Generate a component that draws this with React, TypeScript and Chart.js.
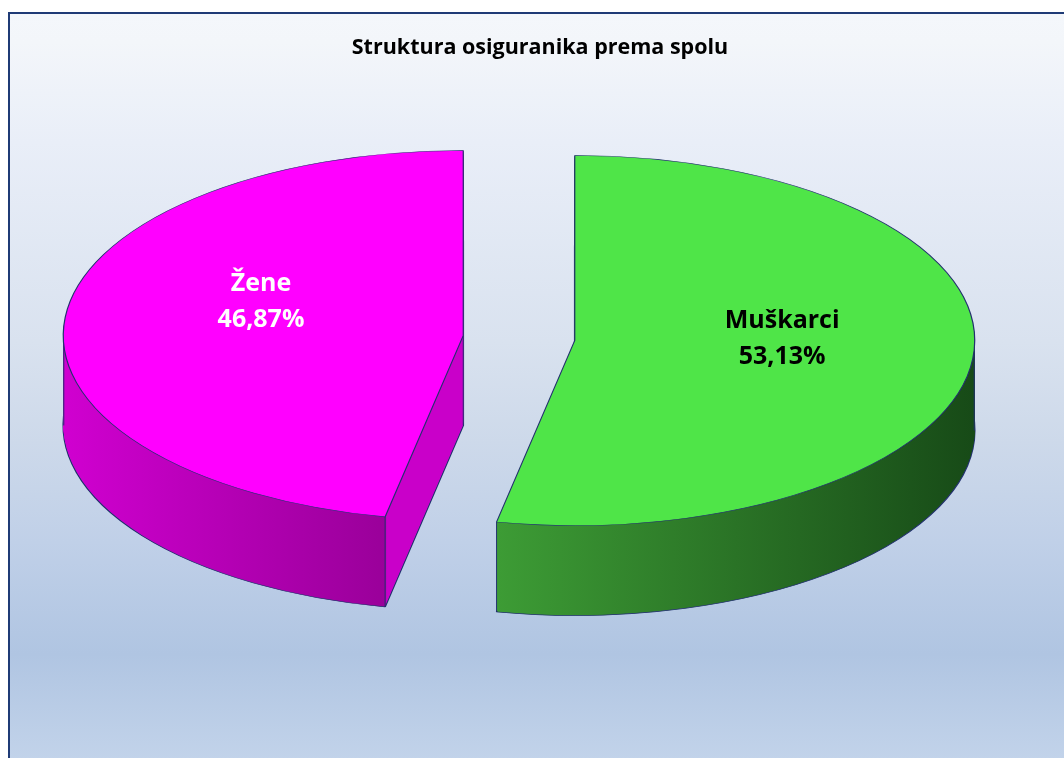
import React, { useEffect, useRef } from 'react';
import { Chart, registerables } from 'chart.js';

Chart.register(...registerables);

const CATEGORIES = ['Muškarci', 'Žene'];
const SHARES = [53.13, 46.87];
const TITLE = 'Struktura osiguranika prema spolu';

const TOP_COLORS = ['#4fe548', '#ff00ff'];
const SIDE_LIGHT = ['#3d9c35', '#d000d0'];
const SIDE_DARK = ['#174a17', '#9a009a'];
const SIDE_CUT = ['#2c7a28', '#c900c9'];
const LABEL_COLORS = ['#000000', '#ffffff'];
const LABEL_SHIFT_DEG = [-8, 15.2];
const LABEL_R_FRAC = [0.519, 0.541];
const EDGE = '#22306e';

const W = 1064;
const H = 758;
const PIE_CX = 519;
const PIE_CY = 338;
const RADIUS = 400;
const SQUASH = 0.4625;
const DEPTH = 90;
const EXPLODE = 56;

const fmtPct = (v: number) => v.toFixed(2).replace('.', ',') + '%';

const inArc = (a: any, ang: number) =>
  [ang, ang + 2 * Math.PI, ang - 2 * Math.PI].some((t) => t >= a.startAngle && t <= a.endAngle);

const pie3d = {
  id: 'pie3d',
  beforeDatasetsDraw(chart: any) {
    const ctx = chart.ctx as CanvasRenderingContext2D;
    const arcs = chart.getDatasetMeta(0).data as any[];
    if (!arcs.length) return;
    const px = arcs[0].x;
    const py = arcs[0].y;
    const sy = (uy: number) => py + (uy - py) * SQUASH;
    const geo = arcs.map((a) => {
      const mid = (a.startAngle + a.endAngle) / 2;
      const dx = Math.cos(mid) * EXPLODE;
      const dy = Math.sin(mid) * EXPLODE;
      const R = a.outerRadius;
      return { a, mid, dx, dy, R, cx: px + dx, cyU: py + dy };
    });
    const point = (g: any, ang: number) => ({
      x: g.cx + Math.cos(ang) * g.R,
      y: sy(g.cyU + Math.sin(ang) * g.R),
    });
    const drawEl = (i: number, over: any, shift: number) => {
      const g = geo[i];
      ctx.save();
      ctx.translate(0, shift);
      ctx.translate(px, py);
      ctx.scale(1, SQUASH);
      ctx.translate(-px, -py);
      ctx.translate(g.dx, g.dy);
      const f = Object.create(g.a);
      f.options = Object.assign({}, g.a.options, { offset: 0 }, over);
      f.draw(ctx);
      ctx.restore();
    };

    const grads = geo.map((g, i) => {
      const gr = ctx.createLinearGradient(px - g.R, 0, px + g.R, 0);
      const frontAtStart = Math.sin(g.a.startAngle) > 0;
      const cornerAng = frontAtStart ? g.a.startAngle : g.a.endAngle;
      const f = Math.min(Math.max((Math.cos(cornerAng) + 1) / 2, 0.001), 0.997);
      if (frontAtStart) {
        gr.addColorStop(0, SIDE_LIGHT[i]);
        gr.addColorStop(f, SIDE_DARK[i]);
        gr.addColorStop(f + 0.002, SIDE_CUT[i]);
        gr.addColorStop(1, SIDE_CUT[i]);
      } else {
        gr.addColorStop(0, SIDE_LIGHT[i]);
        gr.addColorStop(f, SIDE_LIGHT[i]);
        gr.addColorStop(1, SIDE_DARK[i]);
      }
      return gr;
    });

    for (let d = DEPTH; d >= 1; d--) {
      geo.forEach((_g, i) =>
        drawEl(
          i,
          { backgroundColor: grads[i], borderWidth: d === DEPTH ? 1.6 : 0, borderColor: EDGE },
          d
        )
      );
    }

    ctx.save();
    ctx.strokeStyle = EDGE;
    ctx.lineWidth = 1;
    const vline = (x: number, y: number) => {
      ctx.beginPath();
      ctx.moveTo(x, y);
      ctx.lineTo(x, y + DEPTH);
      ctx.stroke();
    };
    geo.forEach((g) => {
      [g.a.startAngle, g.a.endAngle].forEach((ang: number) => {
        if (Math.sin(ang) > 0.01) {
          const p = point(g, ang);
          vline(p.x, p.y);
        }
      });
      vline(g.cx, sy(g.cyU));
      if (inArc(g.a, 0)) vline(g.cx + g.R - 0.5, sy(g.cyU));
      if (inArc(g.a, Math.PI)) vline(g.cx - g.R + 0.5, sy(g.cyU));
    });
    ctx.restore();

    geo.forEach((_g, i) => drawEl(i, {}, 0));

    ctx.save();
    ctx.textAlign = 'center';
    ctx.textBaseline = 'alphabetic';
    ctx.font = 'bold 25px "Open Sans"';
    geo.forEach((g, i) => {
      const ang = g.mid + (LABEL_SHIFT_DEG[i] * Math.PI) / 180;
      const r = g.R * LABEL_R_FRAC[i];
      const x = g.cx + Math.cos(ang) * r;
      const y = sy(g.cyU + Math.sin(ang) * r);
      ctx.fillStyle = LABEL_COLORS[i];
      ctx.fillText(String(chart.data.labels[i]), x, y - 9);
      ctx.fillText(fmtPct(chart.data.datasets[0].data[i]), x, y + 27);
    });
    ctx.restore();
    return false;
  },
};

export default function App() {
  const ref = useRef<HTMLCanvasElement | null>(null);
  useEffect(() => {
    document.body.style.margin = '0';
    if (!ref.current) return;
    const chart = new Chart(ref.current, {
      type: 'pie',
      data: {
        labels: CATEGORIES,
        datasets: [
          {
            data: SHARES,
            backgroundColor: TOP_COLORS,
            borderColor: EDGE,
            borderWidth: 1.2,
            radius: RADIUS,
          } as any,
        ],
      },
      options: {
        responsive: false,
        animation: false,
        events: [],
        layout: {
          padding: { left: 0, right: W - 2 * PIE_CX, top: 0, bottom: H - 2 * PIE_CY },
        },
        plugins: {
          legend: { display: false },
          tooltip: { enabled: false },
          title: { display: false },
        },
      } as any,
      plugins: [pie3d as any],
    });
    return () => chart.destroy();
  }, []);

  return (
    <div style={{ position: 'relative', width: W, height: H, overflow: 'hidden', background: '#fff' }}>
      <div
        style={{
          position: 'absolute',
          left: 8,
          top: 12,
          width: 1070,
          height: 770,
          boxSizing: 'border-box',
          border: '2px solid #1f3b76',
          background:
            'linear-gradient(to bottom, #f4f7fb 0px, #f3f6fa 28px, #e9eef8 128px, #d9e2ef 328px, #cdd9ea 428px, #c0d0e8 528px, #b0c5e2 640px, #c2d3ea 746px)',
        }}
      />
      <canvas
        ref={ref}
        width={W}
        height={H}
        style={{ position: 'absolute', left: 0, top: 0, width: W, height: H, display: 'block' }}
      />
      <div
        style={{
          position: 'absolute',
          left: 8,
          top: 33,
          width: 1064,
          textAlign: 'center',
          font: '700 21.5px "Open Sans"',
          lineHeight: '25px',
          color: '#000',
        }}
      >
        {TITLE}
      </div>
    </div>
  );
}
